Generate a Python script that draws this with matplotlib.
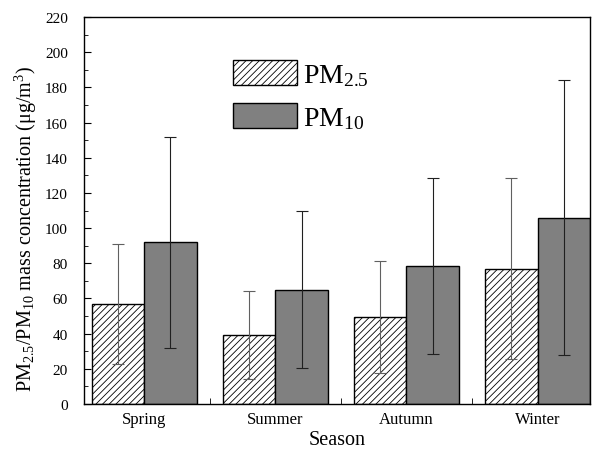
import matplotlib
matplotlib.use("Agg")
import matplotlib.pyplot as plt
import numpy as np
from matplotlib.ticker import MultipleLocator

plt.rcParams['font.family'] = ['Liberation Serif', 'DejaVu Serif']
plt.rcParams['mathtext.fontset'] = 'custom'
plt.rcParams['mathtext.rm'] = 'Liberation Serif'
plt.rcParams['mathtext.it'] = 'Liberation Serif:italic'
plt.rcParams['hatch.linewidth'] = 0.6

seasons = ["Spring", "Summer", "Autumn", "Winter"]
pm25 = [57, 39, 49.5, 77]
pm25_err = [34, 25, 32, 51.5]
pm10 = [92, 65, 78.5, 106]
pm10_err = [60, 44.5, 50, 78]

fig = plt.figure(figsize=(5.99, 4.52), dpi=100)
ax = fig.add_axes([0.140, 0.104, 0.845, 0.856])

x = np.arange(len(seasons))
w = 0.4
ax.bar(x - w/2, pm25, w, color='white', edgecolor='black', hatch='/////', linewidth=1.0,
       label='PM$_{2.5}$', zorder=2)
ax.bar(x + w/2, pm10, w, color='#808080', edgecolor='black', linewidth=1.0,
       label='PM$_{10}$', zorder=2)
ax.errorbar(x - w/2, pm25, yerr=pm25_err, fmt='none', ecolor='#606060', elinewidth=0.8,
            capsize=4, capthick=0.8, zorder=3)
ax.errorbar(x + w/2, pm10, yerr=pm10_err, fmt='none', ecolor='#202020', elinewidth=0.8,
            capsize=4, capthick=0.8, zorder=3)

ax.set_xlim(-0.46, 3.4)
ax.set_ylim(0, 220)
ax.set_xticks(x)
ax.set_xticklabels(seasons, fontsize=12)
ax.set_xticks([0.5, 1.5, 2.5], minor=True)
ax.tick_params(axis='x', which='major', length=0, pad=5)
ax.tick_params(axis='x', which='minor', direction='in', length=4)
ax.yaxis.set_major_locator(MultipleLocator(20))
ax.yaxis.set_minor_locator(MultipleLocator(10))
ax.tick_params(axis='y', which='major', direction='in', length=5, labelsize=11, pad=11.5)
ax.tick_params(axis='y', which='minor', direction='in', length=3)
for s in ax.spines.values():
    s.set_linewidth(1.0)

ax.set_xlabel('Season', fontsize=14.5, labelpad=2)
ax.set_ylabel('PM$_{2.5}$/PM$_{10}$ mass concentration (μg/m$^{3}$)', fontsize=14.5)
ax.yaxis.set_label_coords(-0.088, 0.455)

ax.legend(loc='upper left', bbox_to_anchor=(0.246, 0.953), frameon=False, fontsize=20,
          handlelength=2.3, handleheight=1.0, handletextpad=0.2, labelspacing=0.55)

fig.savefig('out.png', dpi=100)
